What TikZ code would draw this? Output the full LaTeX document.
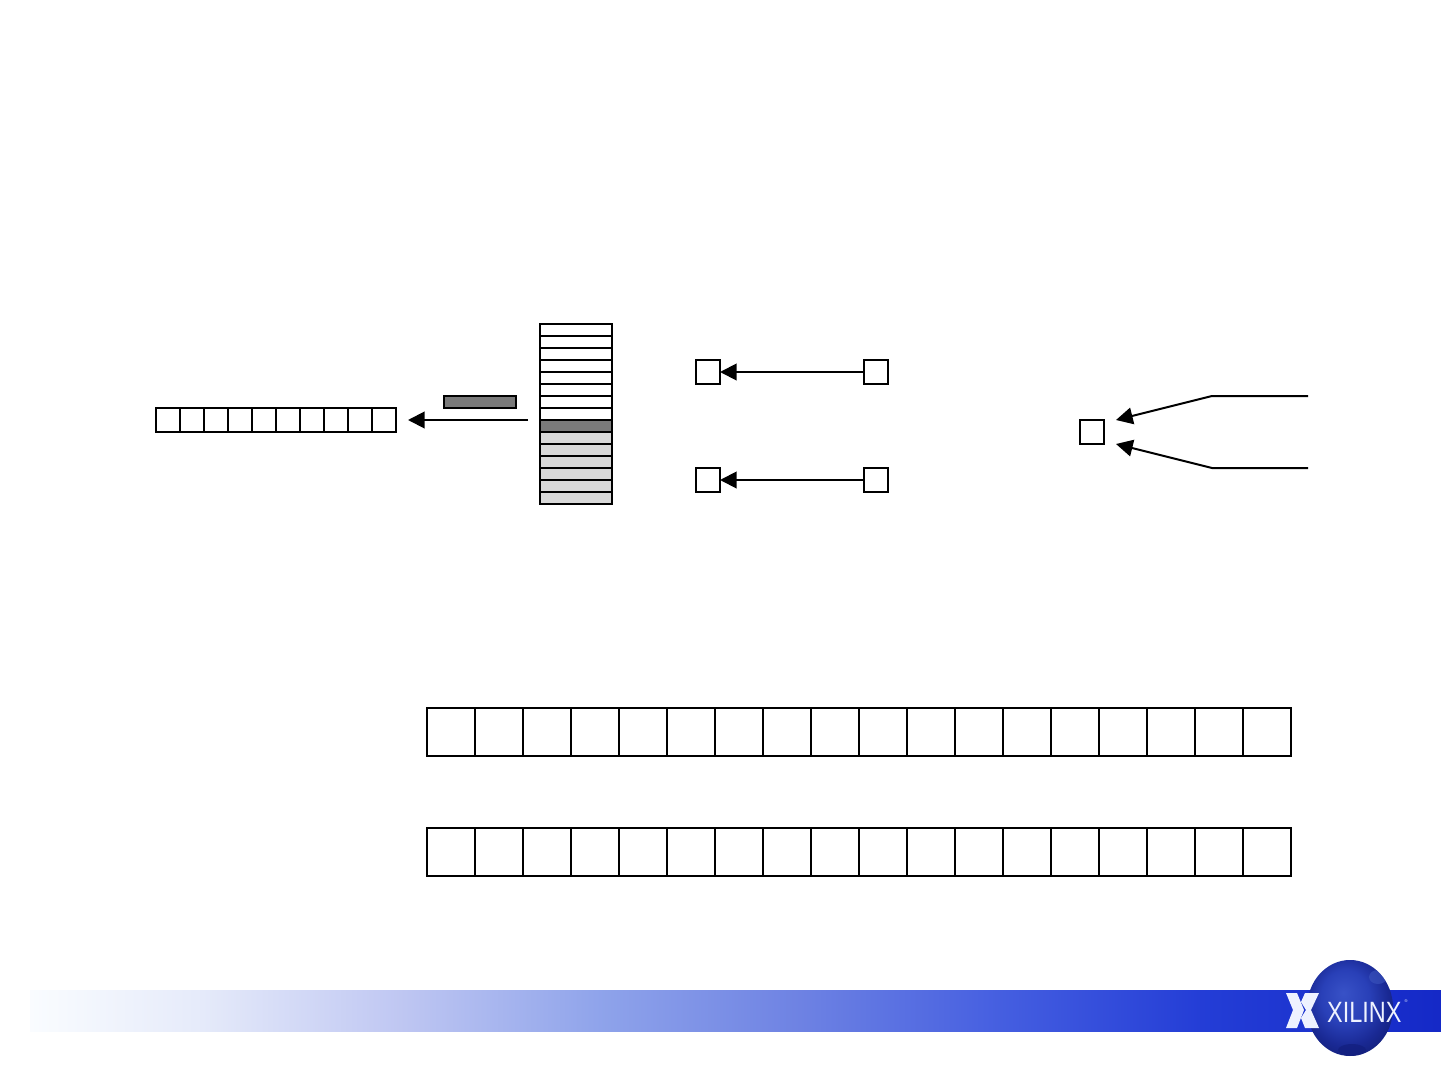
\documentclass[tikz,border=0pt]{standalone}
\usepackage{fontspec}
\setmainfont{Liberation Sans}
\usetikzlibrary{arrows.meta,calc}
\definecolor{darkcell}{RGB}{122,122,122}
\definecolor{lightcell}{RGB}{216,216,216}
\definecolor{landdark}{RGB}{18,30,125}
\definecolor{landlight}{RGB}{60,85,190}
\definecolor{logowhite}{RGB}{238,242,255}
\pgfdeclarehorizontalshading{bandshade}{100bp}{
 rgb(0bp)=(1,1,1); rgb(25bp)=(0.98,0.99,1);
 rgb(31bp)=(0.90,0.92,0.98);
 rgb(38.1bp)=(0.75,0.78,0.95);
 rgb(45.2bp)=(0.56,0.64,0.92);
 rgb(52.3bp)=(0.43,0.51,0.89);
 rgb(59.4bp)=(0.27,0.37,0.88);
 rgb(66.5bp)=(0.14,0.24,0.84);
 rgb(75bp)=(0.08,0.16,0.78);
 rgb(100bp)=(0.08,0.16,0.78)}
\pgfdeclareradialshading{globeshade}{\pgfpoint{-4bp}{8bp}}{
 rgb(0bp)=(0.22,0.32,0.78);
 rgb(14bp)=(0.16,0.25,0.72);
 rgb(24bp)=(0.10,0.16,0.58);
 rgb(32bp)=(0.07,0.12,0.46);
 rgb(50bp)=(0.07,0.12,0.46)}
\tikzset{
 x=0.75pt,y=-0.75pt,
 cellbox/.style={draw=black,line width=1.5pt,fill=white,minimum width=18pt,minimum height=18pt,inner sep=0pt,outer sep=0pt,anchor=center},
 bigcell/.style={cellbox,minimum width=36pt,minimum height=36pt},
 rowcell/.style={cellbox,minimum width=54pt,minimum height=9pt},
 flow/.style={draw=black,line width=1.5pt,-{Triangle[length=12.5pt,width=12.5pt]}},
}
\begin{document}
\begin{tikzpicture}
\useasboundingbox (0,0) rectangle (1441,1080);
\fill[white] (0,0) rectangle (1441,1080);
% footer band
\shade[shading=bandshade] (30,990) rectangle (1441,1031);
% globe
\shade[shading=globeshade] (1350,1008) ellipse [x radius=43,y radius=48];
\begin{scope}
\clip (1350,1008) ellipse [x radius=43,y radius=48];
\fill[landdark,opacity=.7] (1352,1050) ellipse [x radius=14,y radius=6];
\fill[landlight,opacity=.6] (1378,977) ellipse [x radius=9,y radius=7];
\end{scope}
% sigma mark
\fill[logowhite] (1286,993) -- (1297,993) -- (1304,1010) -- (1297,1028) -- (1286,1028) -- (1293,1010) -- cycle;
\fill[logowhite] (1305,993) -- (1319,993) -- (1311,1010) -- (1319,1028) -- (1305,1028) -- (1301,1018) -- (1306,1010) -- (1301,1002) -- cycle;
\node[logowhite,inner sep=0pt,anchor=base west,font=\fontsize{22}{22}\selectfont,xscale=0.8] (logotext) at (1327,1022) {XILINX};
\node[logowhite,inner sep=0pt,font=\fontsize{3}{3}\selectfont] (logomark) at (1406,1001) {®};
% small register
\foreach \i in {0,...,9}{
  \node[cellbox] (s\i) at ({168+24*\i},420) {};
}
% stack
\foreach \i in {0,...,7}{
  \node[rowcell] (r\i) at (576,{330+12*\i}) {};
}
\node[rowcell,fill=darkcell] (r8) at (576,426) {};
\foreach \i in {9,...,14}{
  \node[rowcell,fill=lightcell] (r\i) at (576,{330+12*\i}) {};
}
% bar
\node[rowcell,fill=darkcell] (bar) at (480,402) {};
\coordinate (barstart) at (528,420);
\coordinate (barend) at (408,420);
\draw[flow] (barstart) -- (barend);
% pairs
\node[cellbox] (a1) at (708,372) {};
\node[cellbox] (b1) at (876,372) {};
\node[cellbox] (a2) at (708,480) {};
\node[cellbox] (b2) at (876,480) {};
\draw[flow] (b1.west) -- (a1.east);
\draw[flow] (b2.west) -- (a2.east);
% merge
\node[cellbox] (m) at (1092,432) {};
\coordinate (t0) at (1308,396);
\coordinate (t1) at (1212,396);
\coordinate (t2) at (1116,420);
\coordinate (u0) at (1308,468);
\coordinate (u1) at (1212,468);
\coordinate (u2) at (1116,444);
\draw[flow] (t0) -- (t1) -- (t2);
\draw[flow] (u0) -- (u1) -- (u2);
% big registers
\foreach \i in {0,...,17}{
  \node[bigcell] (p\i) at ({451+48*\i},732) {};
  \node[bigcell] (q\i) at ({451+48*\i},852) {};
}
\end{tikzpicture}
\end{document}
